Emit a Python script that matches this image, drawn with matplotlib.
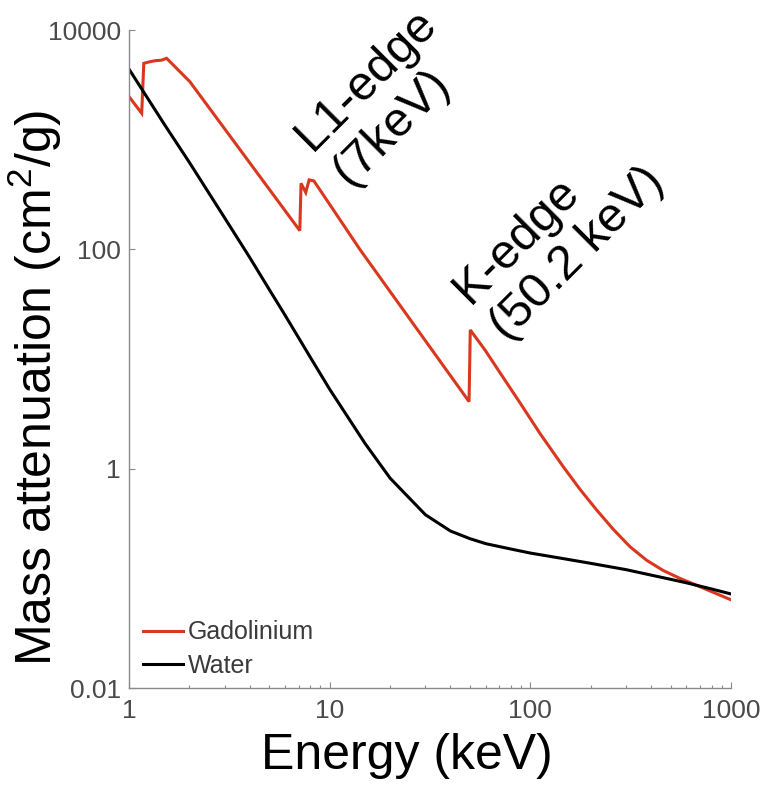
import matplotlib
matplotlib.use("Agg")
import matplotlib.pyplot as plt
from matplotlib.ticker import FixedLocator, FixedFormatter, NullLocator

plt.rcParams['font.family'] = ['Liberation Sans', 'DejaVu Sans']
plt.rcParams['mathtext.fontset'] = 'custom'
plt.rcParams['mathtext.rm'] = 'Liberation Sans'
plt.rcParams['mathtext.it'] = 'Liberation Sans:italic'

# Gadolinium mass attenuation (cm^2/g) vs energy (keV)
gd_energy = [1.0, 1.157, 1.185, 1.25, 1.35, 1.45, 1.54, 2.01, 7.1, 7.2, 7.6, 7.9,
             8.35, 14.2, 49.5, 50.2, 59.4, 70.6, 88.7, 111.6, 146, 176.6, 214,
             259, 313, 380, 459, 556, 648, 1000]
gd_atten = [2470, 1740, 4970, 5100, 5250, 5300, 5520, 3380, 148, 400, 330, 430,
            420, 98.8, 4.09, 18.4, 12.1, 7.5, 4.0, 2.1, 1.04, 0.65, 0.42,
            0.28, 0.195, 0.146, 0.118, 0.100, 0.089, 0.0637]

# Water mass attenuation (cm^2/g) vs energy (keV)
water_energy = [1.0, 1.5, 2, 3, 4, 5, 6, 8, 10, 15, 20, 30, 40, 50, 60, 80, 100,
                150, 200, 300, 400, 500, 600, 800, 1000]
water_atten = [4400, 1380, 620, 193, 84, 43, 25, 10.4, 5.3, 1.7, 0.82, 0.38, 0.27,
               0.23, 0.207, 0.185, 0.17, 0.15, 0.137, 0.12, 0.107, 0.098, 0.091,
               0.080, 0.072]

series_labels = ["Gadolinium", "Water"]
x_ticks = [1, 10, 100, 1000]
x_ticklabels = ["1", "10", "100", "1000"]
y_ticks = [0.01, 1, 100, 10000]
y_ticklabels = ["0.01", "1", "100", "10000"]

RED = '#d9381e'

fig = plt.figure(figsize=(7.65, 7.93), dpi=100)
ax = fig.add_axes([129/765, 1-688/793, (731-129)/765, (688-30)/793])

ax.plot(gd_energy, gd_atten, color=RED, lw=2.2, label=series_labels[0],
        solid_joinstyle='miter')
ax.plot(water_energy, water_atten, color='black', lw=2.2, label=series_labels[1])

ax.set_xscale('log')
ax.set_yscale('log')
ax.set_xlim(1, 1000)
ax.set_ylim(0.01, 10000)

for s in ['top', 'right']:
    ax.spines[s].set_visible(False)
for s in ['left', 'bottom']:
    ax.spines[s].set_color('#8a8a8a')
    ax.spines[s].set_linewidth(1.0)

ax.xaxis.set_major_locator(FixedLocator(x_ticks))
ax.xaxis.set_major_formatter(FixedFormatter(x_ticklabels))
ax.yaxis.set_major_locator(FixedLocator(y_ticks))
ax.yaxis.set_major_formatter(FixedFormatter(y_ticklabels))
ax.yaxis.set_minor_locator(NullLocator())

ax.tick_params(axis='both', which='major', direction='in', length=4.5, width=0.8,
               color='#8a8a8a', labelsize=19, labelcolor='#4a4a4a')
ax.tick_params(axis='x', which='major', pad=8)
ax.tick_params(axis='y', which='major', pad=6)
ax.tick_params(axis='x', which='minor', direction='in', length=2.5, width=0.8,
               color='#8a8a8a')

ax.set_xlabel("Energy (keV)", fontsize=36)
ax.xaxis.set_label_coords(0.462, -0.068)
ax.set_ylabel("Mass attenuation (cm$^2$/g)", fontsize=36)
ax.yaxis.set_label_coords(-0.108, 0.457)

ax.text(8.16, 773, "L1-edge", rotation=45, rotation_mode='anchor', ha='left',
        va='baseline', fontsize=35)
ax.text(12.6, 371, "(7keV)", rotation=45, rotation_mode='anchor', ha='left',
        va='baseline', fontsize=35)
ax.text(50.0, 31.1, "K-edge", rotation=45, rotation_mode='anchor', ha='left',
        va='baseline', fontsize=35)
ax.text(76.4, 14.3, "(50.2 keV)", rotation=45, rotation_mode='anchor', ha='left',
        va='baseline', fontsize=35)

leg = ax.legend(loc='lower left', bbox_to_anchor=(0.023, 0.0154), frameon=False,
                fontsize=18, handlelength=1.6, handletextpad=0.2,
                labelspacing=0.38, borderpad=0, borderaxespad=0)
for t in leg.get_texts():
    t.set_color('#3a3a3a')

fig.savefig("out.png", dpi=100)
